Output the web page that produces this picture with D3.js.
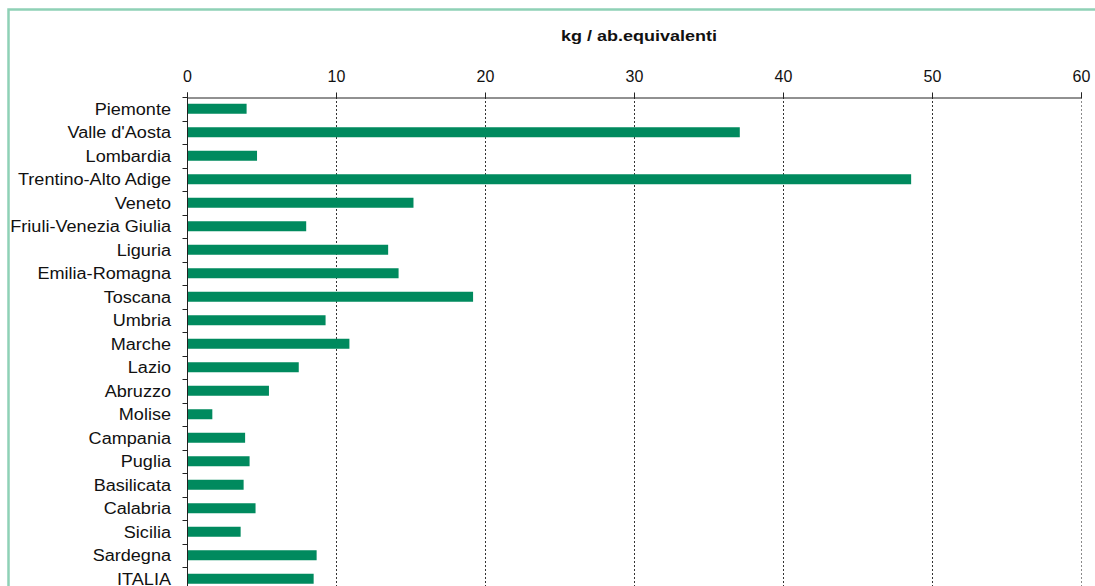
<!DOCTYPE html>
<html>
<head>
<meta charset="utf-8">
<script src="https://cdn.jsdelivr.net/npm/d3@7"></script>
<style>
  html, body { margin: 0; padding: 0; background: #fff; }
  svg { display: block; font-family: "Liberation Sans", Arial, sans-serif; }
</style>
</head>
<body>
<svg id="chart" width="1095" height="586"></svg>
<script>
// Regions and values (kg per equivalent inhabitant)
const regions = [
  "Piemonte", "Valle d'Aosta", "Lombardia", "Trentino-Alto Adige", "Veneto",
  "Friuli-Venezia Giulia", "Liguria", "Emilia-Romagna", "Toscana", "Umbria",
  "Marche", "Lazio", "Abruzzo", "Molise", "Campania", "Puglia", "Basilicata",
  "Calabria", "Sicilia", "Sardegna", "ITALIA"
];
const values = [
  4.0, 37.1, 4.7, 48.6, 15.2, 8.0, 13.5, 14.2, 19.2, 9.3,
  10.9, 7.5, 5.5, 1.7, 3.9, 4.2, 3.8, 4.6, 3.6, 8.7, 8.5
];
const xTicks = [0, 10, 20, 30, 40, 50, 60];
const axisTitle = "kg / ab.equivalenti";

(function () {
  const svg = d3.select("#chart");

  // outer frame
  svg.append("rect")
    .attr("x", 8.5).attr("y", 9.5)
    .attr("width", 1100).attr("height", 600)
    .attr("fill", "none")
    .attr("stroke", "#8fd1b6")
    .attr("stroke-width", 2.5);

  const plotLeft = 187, plotRight = 1081, plotTop = 97;
  const band = 23.5;
  const plotBottom = plotTop + band * regions.length;

  const x = d3.scaleLinear().domain([0, 60]).range([plotLeft, plotRight]);
  const y = d3.scaleBand().domain(regions).range([plotTop, plotBottom]);

  // vertical dotted gridlines
  svg.append("g").selectAll("line")
    .data(xTicks.filter(d => d > 0))
    .join("line")
    .attr("x1", d => Math.round(x(d)) + 0.5)
    .attr("x2", d => Math.round(x(d)) + 0.5)
    .attr("y1", plotTop).attr("y2", 586)
    .attr("stroke", d => d === 60 ? "#8a8a8a" : "#333")
    .attr("stroke-width", 1)
    .attr("stroke-dasharray", "2,2");

  // bars
  const barH = 10;
  svg.append("g").selectAll("rect")
    .data(regions)
    .join("rect")
    .attr("x", x(0))
    .attr("y", d => y(d) + (band - barH) / 2)
    .attr("width", (d, i) => x(values[i]) - x(0))
    .attr("height", barH)
    .attr("fill", "#008a5e");

  // top axis
  const xAxis = d3.axisTop(x).tickValues(xTicks).tickSize(5).tickPadding(11).tickFormat(d3.format("d"));
  const gx = svg.append("g").attr("transform", `translate(0,${plotTop + 0.5})`).call(xAxis);
  gx.select(".domain").attr("stroke", "#222");
  gx.selectAll(".tick line").attr("stroke", "#222");
  gx.selectAll(".tick text").attr("font-size", 16).attr("fill", "#111")
    .attr("font-family", "'Liberation Sans', Arial, sans-serif");

  // left axis with ticks at band boundaries
  const gy = svg.append("g").attr("transform", `translate(${plotLeft + 0.5},0)`);
  gy.append("line").attr("x1", 0).attr("x2", 0).attr("y1", plotTop).attr("y2", 586).attr("stroke", "#222");
  gy.selectAll("line.bt")
    .data(d3.range(regions.length + 1))
    .join("line")
    .attr("class", "bt")
    .attr("x1", -5).attr("x2", 0)
    .attr("y1", i => Math.round(plotTop + i * band) + 0.5)
    .attr("y2", i => Math.round(plotTop + i * band) + 0.5)
    .attr("stroke", "#222");

  // category labels (slightly wide lettering)
  svg.append("g").selectAll("text")
    .data(regions)
    .join("text")
    .attr("transform", d => `translate(171,${y(d) + band / 2}) scale(1.13,1)`)
    .attr("dy", "0.36em")
    .attr("text-anchor", "end")
    .attr("font-size", 16)
    .attr("fill", "#111")
    .text(d => d);

  // axis title
  svg.append("text")
    .attr("transform", "translate(639,41) scale(1.2,1)")
    .attr("text-anchor", "middle")
    .attr("font-size", 15)
    .attr("font-weight", "bold")
    .attr("fill", "#111")
    .text(axisTitle);
})();
</script>
</body>
</html>
